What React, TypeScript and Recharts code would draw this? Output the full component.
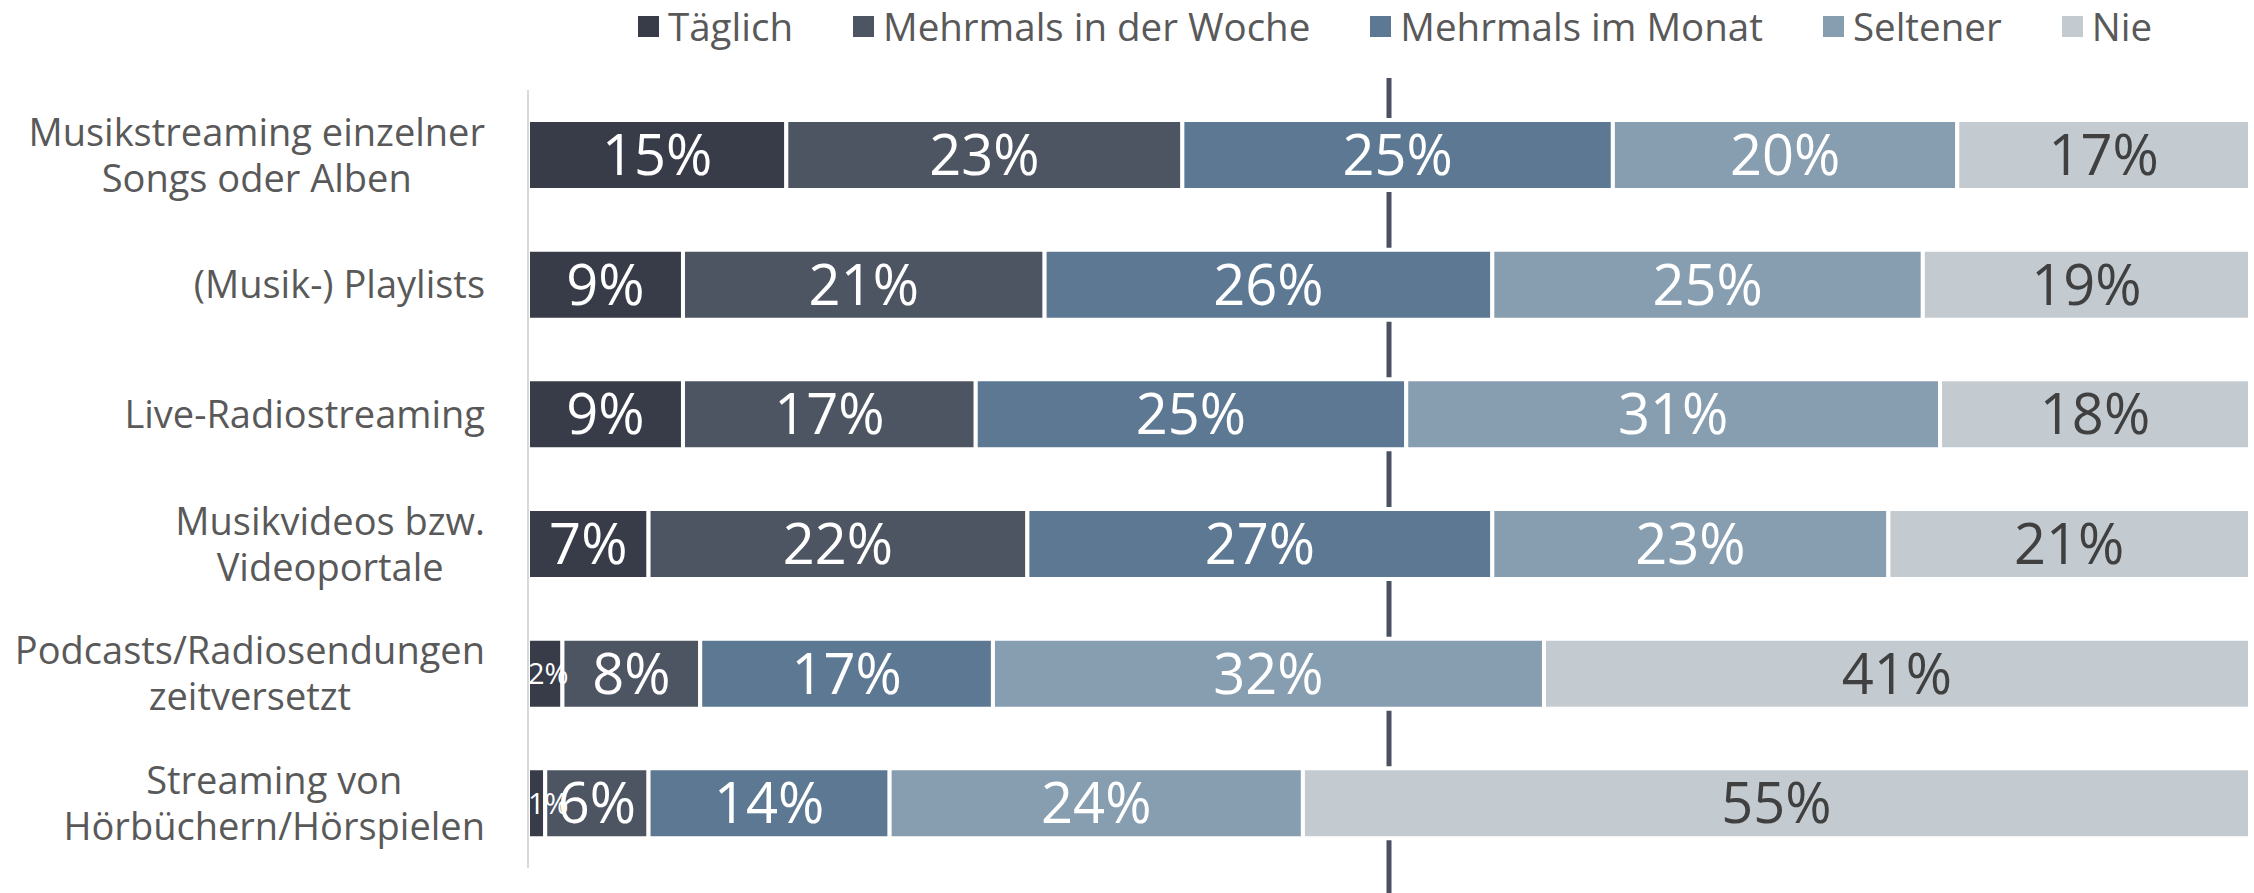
import React from "react";
import { BarChart, Bar, XAxis, YAxis, LabelList, ReferenceLine, Legend } from "recharts";

const categories = [
  "Musikstreaming einzelner\nSongs oder Alben",
  "(Musik-) Playlists",
  "Live-Radiostreaming",
  "Musikvideos bzw.\nVideoportale",
  "Podcasts/Radiosendungen\nzeitversetzt",
  "Streaming von\nHörbüchern/Hörspielen",
];

const taeglich = [15, 9, 9, 7, 2, 1];
const mehrmalsWoche = [23, 21, 17, 22, 8, 6];
const mehrmalsMonat = [25, 26, 25, 27, 17, 14];
const seltener = [20, 25, 31, 23, 32, 24];
const nie = [17, 19, 18, 21, 41, 55];

const seriesNames = ["Täglich", "Mehrmals in der Woche", "Mehrmals im Monat", "Seltener", "Nie"];
const seriesColors = ["#383c49", "#4e5562", "#5c7893", "#879db0", "#c3cbd1"];
const labelColors = ["#ffffff", "#ffffff", "#ffffff", "#ffffff", "#404040"];
const seriesKeys = ["taeglich", "woche", "monat", "seltener", "nie"];

const data = categories.map((category, i) => ({
  category,
  taeglich: taeglich[i],
  woche: mehrmalsWoche[i],
  monat: mehrmalsMonat[i],
  seltener: seltener[i],
  nie: nie[i],
}));

const FONT = "'Open Sans', sans-serif";
const TICK_SIZE = 38;

let ctx: CanvasRenderingContext2D | null = null;
function measure(text: string, size: number) {
  if (!ctx) ctx = document.createElement("canvas").getContext("2d");
  if (!ctx) return text.length * size * 0.52;
  ctx.font = `${size}px "Open Sans"`;
  return ctx.measureText(text).width;
}

function CategoryTick(props: any) {
  const { x, y, payload } = props;
  const lines = String(payload.value).split("\n");
  const maxW = Math.max(...lines.map((l) => measure(l, TICK_SIZE)));
  const cx = x - maxW / 2;
  const lh = 46;
  const y0 = y - ((lines.length - 1) * lh) / 2;
  return (
    <text x={cx} y={y0} textAnchor="middle" fontSize={TICK_SIZE} fill="#595959" fontFamily={FONT}>
      {lines.map((l, i) => (
        <tspan key={i} x={cx} y={y0 + i * lh} dy="0.36em">
          {l}
        </tspan>
      ))}
    </text>
  );
}

// labels are centred on their segment, but kept from running left of the segment start
const makeLabel = (color: string) => (props: any) => {
  const { x, y, width, height, value } = props;
  const size = value < 5 ? 29 : 56;
  const text = `${value}%`;
  const w = measure(text, size);
  const left = Math.max(x, x + width / 2 - w / 2);
  return (
    <text x={left} y={y + height / 2} dy="0.36em" textAnchor="start" fill={color} fontSize={size} fontFamily={FONT}>
      {text}
    </text>
  );
};

function LegendContent() {
  return (
    <div
      style={{
        display: "flex",
        justifyContent: "center",
        alignItems: "center",
        height: 52,
        paddingLeft: 540,
        paddingRight: 4,
        fontFamily: FONT,
        fontSize: 38.5,
        color: "#595959",
        boxSizing: "border-box",
      }}
    >
      {seriesNames.map((name, i) => (
        <div key={name} style={{ display: "flex", alignItems: "center", marginRight: i < seriesNames.length - 1 ? 60 : 0 }}>
          <span style={{ width: 21, height: 21, background: seriesColors[i], marginRight: 9, display: "inline-block" }} />
          <span>{name}</span>
        </div>
      ))}
    </div>
  );
}

export default function App() {
  return (
    <div style={{ position: "absolute", left: 0, top: 0, background: "#fff" }}>
      <BarChart
        width={2254}
        height={893}
        data={data}
        layout="vertical"
        margin={{ top: 38, right: 4, bottom: 25, left: 0 }}
        barSize={70}
      >
        <Legend verticalAlign="top" content={<LegendContent />} wrapperStyle={{ top: 0, left: 0, width: 2254 }} />
        <XAxis type="number" domain={[0, 100]} hide />
        <YAxis
          type="category"
          dataKey="category"
          width={528}
          tickLine={false}
          tickMargin={37}
          interval={0}
          axisLine={{ stroke: "#d9d9d9", strokeWidth: 2 }}
          tick={<CategoryTick />}
        />
        <ReferenceLine
          x={50}
          zIndex={-50}
          stroke="#4a5160"
          strokeWidth={5}
          shape={(p: any) => (
            <line
              x1={p.x1}
              y1={Math.min(p.y1, p.y2) - 12}
              x2={p.x2}
              y2={Math.max(p.y1, p.y2) + 26}
              stroke="#4a5160"
              strokeWidth={5}
            />
          )}
        />
        {seriesKeys.map((key, i) => (
          <Bar
            key={key}
            dataKey={key}
            name={seriesNames[i]}
            stackId="a"
            fill={seriesColors[i]}
            stroke="#ffffff"
            strokeWidth={4}
            isAnimationActive={false}
          >
            <LabelList dataKey={key} content={makeLabel(labelColors[i])} />
          </Bar>
        ))}
      </BarChart>
    </div>
  );
}
